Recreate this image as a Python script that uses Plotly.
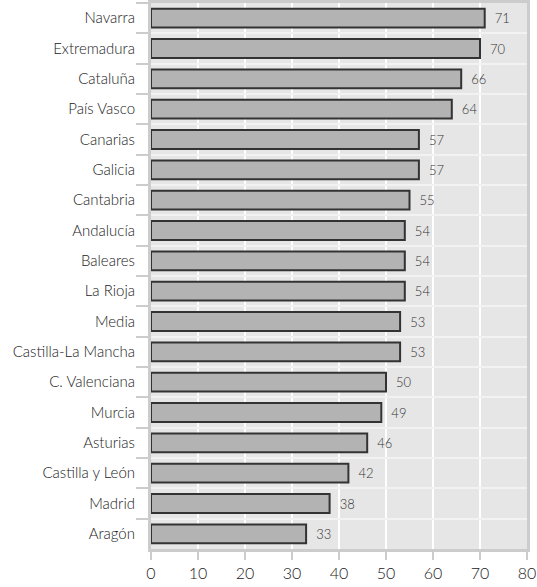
import plotly.graph_objects as go

regions = ["Navarra", "Extremadura", "Cataluña", "País Vasco", "Canarias", "Galicia",
           "Cantabria", "Andalucía", "Baleares", "La Rioja", "Media", "Castilla-La Mancha",
           "C. Valenciana", "Murcia", "Asturias", "Castilla y León", "Madrid", "Aragón"]
values = [71, 70, 66, 64, 57, 57, 55, 54, 54, 54, 53, 53, 50, 49, 46, 42, 38, 33]
x_ticks = [0, 10, 20, 30, 40, 50, 60, 70, 80]

font = "Lato"

fig = go.Figure(go.Bar(
    x=values, y=regions, orientation="h",
    marker=dict(color="#b3b3b3", line=dict(color="#333333", width=2)),
    text=values, texttemplate="  %{x}", textposition="outside", cliponaxis=False,
    textfont=dict(family=font, size=13, color="#333333", weight=300),
))

fig.update_layout(
    width=537, height=587,
    margin=dict(l=151, r=10, t=3, b=38, autoexpand=False),
    paper_bgcolor="white", plot_bgcolor="#e6e6e6",
    bargap=0.38, showlegend=False,
    font=dict(family=font, color="#222222", weight=300),
)
fig.update_xaxes(
    range=[0, 80], tickvals=x_ticks, ticktext=[str(v) for v in x_ticks],
    showgrid=True, gridcolor="white", gridwidth=1.5,
    ticks="outside", ticklen=8, tickcolor="#cccccc", tickwidth=1.5,
    tickfont=dict(size=16, color="#222222", weight=300),
    showline=True, linecolor="#cccccc", linewidth=3, mirror=True,
    zeroline=False, automargin=False,
)
fig.update_yaxes(
    autorange="reversed", type="category",
    tickson="boundaries", showgrid=True, gridcolor="#f2f2f2", gridwidth=1.5,
    ticks="outside", ticklen=12, tickcolor="#cccccc", tickwidth=1.5,
    tickfont=dict(size=15, color="#222222", weight=300),
    ticklabelstandoff=10,
    showline=True, linecolor="#cccccc", linewidth=3, mirror=True,
    automargin=False,
)

fig.write_html("out.html", config={"displayModeBar": False},
               post_script="document.body.style.margin='0';")
